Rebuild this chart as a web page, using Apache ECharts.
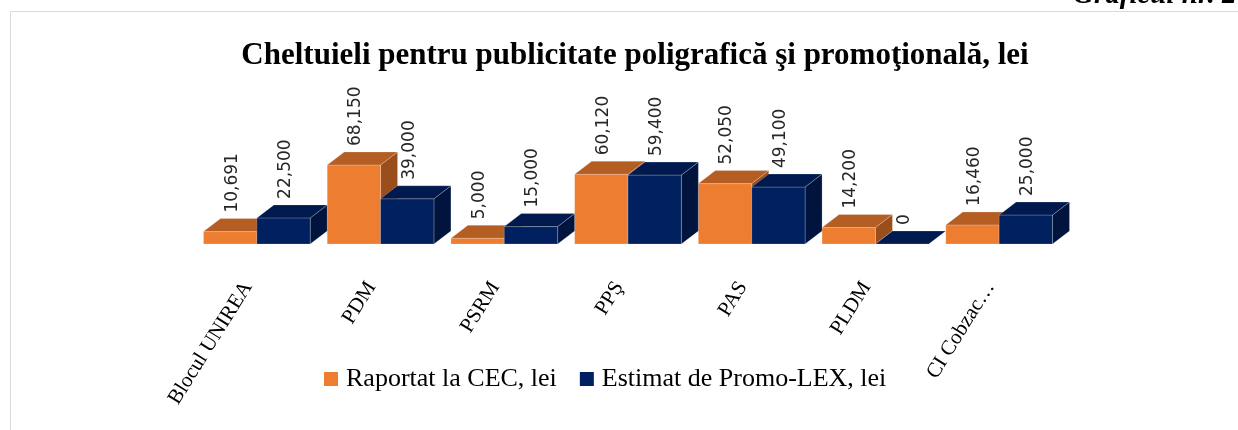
<!DOCTYPE html>
<html>
<head>
<meta charset="utf-8">
<script src="https://cdn.jsdelivr.net/npm/echarts@6/dist/echarts.min.js"></script>
<style>
  html, body { margin: 0; padding: 0; background: #fff; }
  #chart { width: 1238px; height: 430px; }
</style>
</head>
<body>
<div id="chart"></div>
<script>
// categorii (partide / candidati)
var categories = ['Blocul UNIREA', 'PDM', 'PSRM', 'PPŞ', 'PAS', 'PLDM', 'CI Cobzac…'];
// Raportat la CEC, lei
var raportat = [10691, 68150, 5000, 60120, 52050, 14200, 16460];
// Estimat de Promo-LEX, lei
var estimat = [22500, 39000, 15000, 59400, 49100, 0, 25000];

var seriesNames = ['Raportat la CEC, lei', 'Estimat de Promo-LEX, lei'];

// culori: fata, capac, lateral
var faces = [
    { front: '#ED7D31', top: '#B45E24', side: '#994E1C' },
    { front: '#002060', top: '#001A4F', side: '#00143D' }
];

var DX = 17, DY = 13; // adancimea 3D

function fmt(v) {
    return v.toLocaleString('en-US');
}

// bara 3D: fata + capac + lateral + eticheta verticala
function makeRender(idx) {
    return function (params, api) {
        var cat = api.value(0), val = api.value(1);
        var base = api.coord([cat, 0]);
        var topY = api.coord([cat, val])[1];
        var band = api.size([1, 0])[0];
        var w = (band - DX) / 2;
        var x0 = idx === 0 ? base[0] - w : base[0];
        var x1 = x0 + w;
        var y0 = base[1];
        var col = faces[idx];
        var edge = { stroke: 'rgba(255,255,255,0.35)', lineWidth: 0.6 };
        return {
            type: 'group',
            children: [
                {
                    type: 'polygon',
                    shape: { points: [[x1, topY], [x1 + DX, topY - DY], [x1 + DX, y0 - DY], [x1, y0]] },
                    style: Object.assign({ fill: col.side }, edge)
                },
                {
                    type: 'rect',
                    shape: { x: x0, y: topY, width: w, height: y0 - topY },
                    style: Object.assign({ fill: col.front }, edge)
                },
                {
                    type: 'polygon',
                    shape: { points: [[x0, topY], [x0 + DX, topY - DY], [x1 + DX, topY - DY], [x1, topY]] },
                    style: Object.assign({ fill: col.top }, edge)
                },
                {
                    type: 'text',
                    x: (x0 + x1) / 2 + 2,
                    y: topY - 19,
                    rotation: Math.PI / 2,
                    style: {
                        x: 0, y: 0,
                        text: fmt(val),
                        align: 'left',
                        verticalAlign: 'middle',
                        fill: '#262626',
                        font: '17px "DejaVu Sans"'
                    }
                }
            ]
        };
    };
}

var chart = echarts.init(document.getElementById('chart'));

var option = {
    animation: false,
    backgroundColor: '#fff',
    title: {
        text: 'Cheltuieli pentru publicitate poligrafică şi promoţională, lei',
        left: 630,
        top: 35,
        textAlign: 'center',
        textStyle: {
            fontFamily: 'Liberation Serif',
            fontWeight: 'bold',
            fontSize: 31,
            color: '#000'
        }
    },
    graphic: [
        {
            type: 'rect',
            shape: { x: 10.5, y: 11.5, width: 1400, height: 600 },
            style: { fill: 'none', stroke: '#d9d9d9', lineWidth: 1 },
            silent: true
        },
        {
            type: 'text',
            x: 1073,
            y: 10,
            style: {
                text: 'Graficul nr. 2',
                font: 'italic bold 29px "Liberation Serif"',
                fill: '#000',
                verticalAlign: 'bottom'
            }
        }
    ],
    legend: {
        left: 319,
        top: 361,
        itemWidth: 14,
        itemHeight: 14,
        itemGap: 23,
        icon: 'rect',
        data: seriesNames.map(function (n, i) {
            return { name: n, itemStyle: { color: faces[i].front } };
        }),
        textStyle: {
            fontFamily: 'Liberation Serif',
            fontSize: 26,
            color: '#000',
            padding: [0, 0, 0, 3]
        }
    },
    grid: {
        left: 195,
        right: 177,
        top: 128,
        bottom: 186,
        containLabel: false
    },
    xAxis: {
        type: 'category',
        data: categories,
        axisLine: { show: false },
        axisTick: { show: false },
        splitLine: { show: false },
        axisLabel: {
            interval: 0,
            rotate: 58,
            margin: 25,
            padding: [0, 17, 0, 0],
            fontFamily: 'Liberation Serif',
            fontSize: 21,
            color: '#000'
        }
    },
    yAxis: {
        type: 'value',
        min: 0,
        max: 100000,
        show: false
    },
    series: [
        {
            name: seriesNames[0],
            type: 'custom',
            renderItem: makeRender(0),
            itemStyle: { color: faces[0].front },
            encode: { x: 0, y: 1 },
            data: raportat.map(function (v, i) { return [i, v]; })
        },
        {
            name: seriesNames[1],
            type: 'custom',
            renderItem: makeRender(1),
            itemStyle: { color: faces[1].front },
            encode: { x: 0, y: 1 },
            data: estimat.map(function (v, i) { return [i, v]; })
        }
    ]
};

chart.setOption(option);
</script>
</body>
</html>
